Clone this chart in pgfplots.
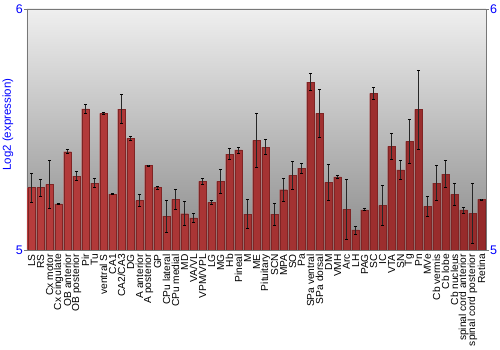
\documentclass[border=0pt]{standalone}
\usepackage{fontspec}
\setmainfont{Liberation Sans}
\usepackage{pgfplots}
\pgfplotsset{compat=1.18}
\usepackage{pgfplotstable}
\definecolor{bgtop}{HTML}{EFEFEF}
\definecolor{bgbot}{HTML}{8A8A8A}
\definecolor{barL}{HTML}{B63C3C}
\definecolor{barM}{HTML}{CE4E4E}
\definecolor{barR}{HTML}{952A2A}
\definecolor{framec}{HTML}{777777}
\definecolor{lblue}{HTML}{0000FF}

\pgfplotstableread{
x y e
0 5.259 0.060
1 5.259 0.036
2 5.272 0.098
3 5.191 0.002
4 5.408 0.009
5 5.307 0.020
6 5.586 0.017
7 5.277 0.019
8 5.567 0.004
9 5.232 0.002
10 5.585 0.060
11 5.463 0.010
12 5.205 0.025
13 5.351 0.002
14 5.259 0.007
15 5.141 0.066
16 5.210 0.040
17 5.151 0.050
18 5.133 0.020
19 5.285 0.012
20 5.198 0.009
21 5.285 0.048
22 5.398 0.023
23 5.415 0.012
24 5.149 0.060
25 5.455 0.112
26 5.427 0.031
27 5.149 0.046
28 5.250 0.047
29 5.310 0.057
30 5.340 0.021
31 5.697 0.035
32 5.567 0.100
33 5.281 0.073
34 5.303 0.006
35 5.169 0.124
36 5.083 0.017
37 5.167 0.004
38 5.650 0.026
39 5.185 0.082
40 5.430 0.055
41 5.332 0.038
42 5.451 0.090
43 5.583 0.164
44 5.181 0.043
45 5.278 0.073
46 5.315 0.057
47 5.231 0.046
48 5.166 0.012
49 5.152 0.124
50 5.210 0.002
}\data

\begin{document}
\begin{tikzpicture}
\begin{axis}[
  scale only axis, width=459pt, height=241pt,
  xmin=-0.5, xmax=50.5, ymin=5, ymax=6,
  xtick={0,...,50},
  xticklabels={LS,RS,Cx motor,Cx cingulate,OB anterior,OB posterior,Pir,Tu,ventral S,CA1,CA2/CA3,DG,A anterior,A posterior,GP,CPu lateral,CPu medial,MD,VA/VL,VPM/VPL,LG,MG,Hb,Pineal,M,ME,Pituitary,SCN,MPA,SO,Pa,SPa ventral,SPa dorsal,DM,VMH,Arc,LH,PAG,SC,IC,VTA,SN,Tg,Pn,MVe,Cb vermis,Cb lobe,Cb nucleus,spinal cord anterior,spinal cord posterior,Retina},
  xticklabel style={rotate=90, anchor=east, font=\fontsize{10.2}{10.2}\selectfont, inner sep=1pt},
  x tick style={draw=none},
  ytick={5,6}, ytick pos=left,
  tick align=outside, major tick length=3pt,
  y tick style={framec},
  yticklabel style={lblue, font=\fontsize{12.5}{12.5}\selectfont, inner sep=1pt},
  /pgf/number format/assume math mode=true,
  ylabel={Log2 (expression)},
  ylabel style={lblue, font=\fontsize{11.5}{11.5}\selectfont, at={(axis description cs:-0.0414,0.52)}, anchor=center},
  axis line style={framec},
  axis background/.style={top color=bgtop, bottom color=bgbot},
]
\addplot[ybar, bar width=0.86, draw=barR!85!black, line width=0.2pt,
  left color=barL, middle color=barM, right color=barR] table[x=x, y=y] {\data};
\addplot[draw=none, mark=none,
  error bars/.cd, y dir=both, y explicit,
  error mark options={rotate=90, mark size=1.6pt, draw=black, line width=0.7pt},
  error bar style={draw=black!85, line width=0.7pt}]
  table[x=x, y=y, y error=e] {\data};
\end{axis}
\begin{axis}[
  scale only axis, width=459pt, height=241pt,
  xmin=-0.5, xmax=50.5, ymin=5, ymax=6,
  hide x axis,
  axis y line*=right,
  ytick={5,6},
  tick align=outside, major tick length=3pt,
  y tick style={framec},
  yticklabel style={lblue, font=\fontsize{12.5}{12.5}\selectfont, inner sep=1pt},
  /pgf/number format/assume math mode=true,
  axis line style={framec},
]
\addplot[draw=none] coordinates {(0,5.5)};
\end{axis}
\pgfresetboundingbox
\path ([shift={(-27pt,-100pt)}]current axis.south west) rectangle ([shift={(14pt,9pt)}]current axis.north east);
\end{tikzpicture}
\end{document}
